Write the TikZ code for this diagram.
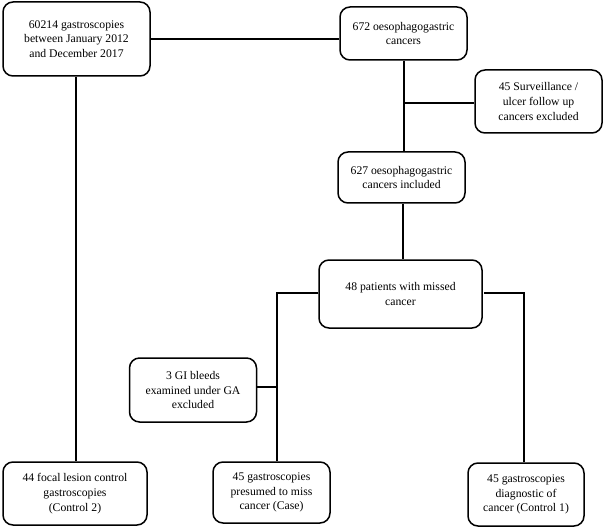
\documentclass[tikz,border=0pt]{standalone}
\usepackage{fontspec}
\setmainfont{Liberation Serif}
\begin{document}
\begin{tikzpicture}[x=1pt,y=-1pt,
  box/.style={draw=black, line width=1.5pt, rounded corners=10pt, fill=white,
    align=center, inner sep=2pt, font=\fontsize{11.7}{14.8}\selectfont},
  conn/.style={draw=black, line width=1.5pt}]
\useasboundingbox[fill=white] (0,0) rectangle (604,529);

\node[box, minimum width=147pt, minimum height=74pt] (n1) at (76.5,39) {60214 gastroscopies\\between January 2012\\and December 2017};
\node[box, minimum width=127pt, minimum height=53pt] (n2) at (403.5,33.5) {672 oesophagogastric\\cancers};
\node[box, minimum width=127pt, minimum height=63pt] (surv) at (538.5,101.5) {45 Surveillance /\\ulcer follow up\\cancers excluded};
\node[box, minimum width=127pt, minimum height=51pt] (n627) at (401.5,177.5) {627 oesophagogastric\\cancers included};
\node[box, minimum width=163pt, minimum height=68pt] (n48) at (400.5,294) {48 patients with missed\\cancer};
\node[box, minimum width=127pt, minimum height=64pt] (gi) at (193,390) {3 GI bleeds\\examined under GA\\excluded};
\node[box, minimum width=144pt, minimum height=63pt] (c2) at (75,493.5) {44 focal lesion control\\gastroscopies\\(Control 2)};
\node[box, minimum width=117pt, minimum height=61pt] (case) at (271.5,492.5) {45 gastroscopies\\presumed to miss\\cancer (Case)};
\node[box, minimum width=116pt, minimum height=63pt] (c1) at (526,494.5) {45 gastroscopies\\diagnostic of\\cancer (Control 1)};

\coordinate (a1) at (150,39);
\coordinate (v1) at (404,0);
\coordinate (j1) at (404,103);
\coordinate (v2) at (403,0);
\coordinate (j2) at (277,293);
\coordinate (j3) at (277,387);
\coordinate (r1) at (484,293);
\coordinate (r2) at (524,293);
\coordinate (v3) at (76,0);

\draw[conn] (a1) -- (a1 -| n2.west);
\draw[conn] (v1 |- n2.south) -- (v1 |- n627.north);
\draw[conn] (j1) -- (j1 -| surv.west);
\draw[conn] (v2 |- n627.south) -- (v2 |- n48.north);
\draw[conn] (j2 -| n48.west) -- (j2) -- (j2 |- case.north);
\draw[conn] (j3 -| gi.east) -- (j3);
\draw[conn] (r1) -- (r2) -- (r2 |- c1.north);
\draw[conn] (v3 |- n1.south) -- (v3 |- c2.north);
\end{tikzpicture}
\end{document}
